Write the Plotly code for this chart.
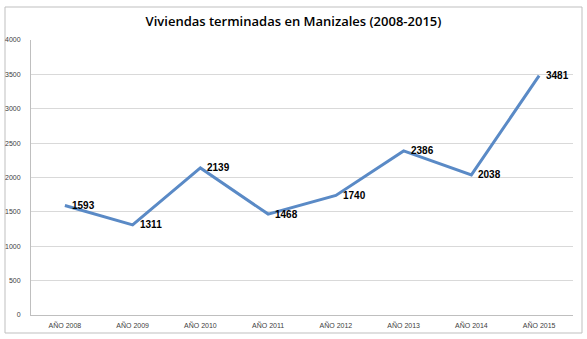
import plotly.graph_objects as go

categories = ["AÑO 2008", "AÑO 2009", "AÑO 2010", "AÑO 2011", "AÑO 2012", "AÑO 2013", "AÑO 2014", "AÑO 2015"]
values = [1593, 1311, 2139, 1468, 1740, 2386, 2038, 3481]
y_ticks = [0, 500, 1000, 1500, 2000, 2500, 3000, 3500, 4000]

W, H = 587, 339
L, R, T, B = 31, 14, 40, 24
pw, ph = W - L - R, H - T - B

fig = go.Figure()
fig.add_trace(go.Scatter(
    x=categories, y=values, mode="lines",
    line=dict(color="#5A8AC6", width=3),
    hoverinfo="skip",
))

annotations = [dict(
    x=c, y=v, xref="x", yref="y", text=str(v), showarrow=False,
    xanchor="left", yanchor="middle", xshift=5,
    font=dict(family="Liberation Sans, Arial", size=10, color="#000000", weight="bold"),
) for c, v in zip(categories, values)]

fig.update_layout(
    width=W, height=H,
    margin=dict(l=L, r=R, t=T, b=B),
    paper_bgcolor="white", plot_bgcolor="white",
    showlegend=False,
    annotations=annotations,
    title=dict(text="Viviendas terminadas en Manizales (2008-2015)",
               x=0.5, xanchor="center", y=1 - 21 / H, yanchor="middle",
               font=dict(family="Open Sans, Liberation Sans", size=13, color="#000000", weight=600)),
    xaxis=dict(
        type="category", range=[-0.5, len(categories) - 0.5], automargin=False,
        showgrid=False, showline=True, linecolor="#BFBFBF", linewidth=1,
        ticks="", tickfont=dict(family="Liberation Sans, Arial", size=7, color="#404040"),
        ticklabelstandoff=4, zeroline=False,
    ),
    yaxis=dict(
        range=[0, 4000], tickvals=y_ticks, automargin=False,
        showgrid=True, gridcolor="#D9D9D9", gridwidth=1,
        showline=True, linecolor="#BFBFBF", linewidth=1,
        ticks="", tickfont=dict(family="Liberation Sans, Arial", size=7, color="#404040"),
        ticklabelstandoff=8, zeroline=False,
    ),
    shapes=[dict(
        type="rect", xref="paper", yref="paper",
        x0=(5 - L) / pw, x1=(582 - L) / pw,
        y0=(H - B - 333) / ph, y1=(H - B - 7) / ph,
        line=dict(color="#BFBFBF", width=1), fillcolor="rgba(0,0,0,0)", layer="below",
    )],
)

fig.write_html("out.html")
